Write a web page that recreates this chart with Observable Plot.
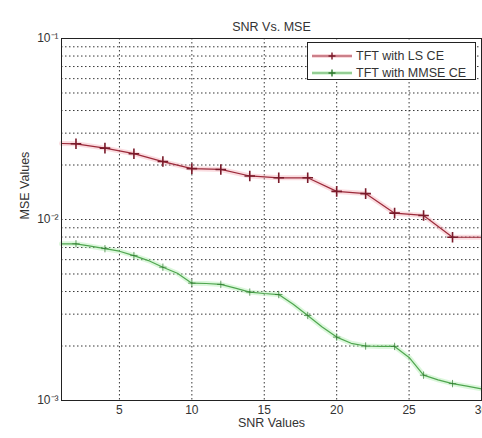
<!DOCTYPE html>
<html><head><meta charset="utf-8">
<script src="https://cdn.jsdelivr.net/npm/d3@7"></script>
<script src="https://cdn.jsdelivr.net/npm/@observablehq/plot@0.6"></script>
<style>
body{margin:0;background:#fff;}
#chart{position:relative;width:482px;height:438px;}
</style></head><body><div id="chart"></div>
<script>
// ---- data ----
const lsSnr = [1,2,4,6,8,10,12,14,16,18,20,22,24,26,28,30];
const lsMse = [0.0263,0.0262,0.0248,0.0231,0.0209,0.0191,0.0189,0.0174,0.0170,0.0170,0.0143,0.0139,0.01084,0.01053,0.00798,0.00798];
const mmseSnr = [1,2,3,4,5,6,7,8,9,10,11,12,13,14,15,16,17,18,19,20,21,22,23,24,25,26,27,28,29,30];
const mmseMse = [0.00734,0.00734,0.00712,0.00690,0.00668,0.00632,0.00593,0.00545,0.00505,0.00445,0.00443,0.00438,0.00418,0.00397,0.00390,0.00385,0.00340,0.00295,0.00255,0.00224,0.00207,0.00200,0.00199,0.00199,0.00173,0.00138,0.00130,0.00124,0.00120,0.00116];
const seriesNames = ["TFT with LS CE","TFT with MMSE CE"];
const xTicks = [5,10,15,20,25,30];
const yTicks = [0.1,0.01,0.001];
const yTickLabels = ["10\u207B\u00B9","10\u207B\u00B2","10\u207B\u00B3"];
const yGrid = [0.002,0.003,0.004,0.005,0.006,0.007,0.008,0.009,0.01,0.02,0.03,0.04,0.05,0.06,0.07,0.08,0.09];
const titleText = "SNR Vs. MSE";
const xLabel = "SNR Values";
const yLabel = "MSE Values";

// ---- styles ----
const redLine = "#9c2a3a", redHalo = "#f29aa5", redMark = "#7a1a2a";
const greenLine = "#4fa64f", greenHalo = "#a8eca8", greenMark = "#2f7a2f";
const gridStyle = {stroke:"#222", strokeOpacity:0.9, strokeDasharray:"1.5,2.5"};

const ls = lsSnr.map((x,i)=>({snr:x, mse:lsMse[i]}));
const mm = mmseSnr.map((x,i)=>({snr:x, mse:mmseMse[i]}));
const isMarker = d => d.snr >= 2 && d.snr <= 28 && d.snr % 2 === 0;

const plot = Plot.plot({
  width:482, height:438,
  marginLeft:61, marginRight:1, marginTop:38, marginBottom:38,
  style:{fontFamily:"'Liberation Sans', Arial, sans-serif", fontSize:"12px", color:"#333", background:"#fff", overflow:"visible"},
  x:{domain:[1,30]},
  y:{type:"log", domain:[0.001,0.1]},
  marks:[
    Plot.gridX(xTicks.slice(0,5), gridStyle),
    Plot.gridY(yGrid, gridStyle),
    Plot.axisX(xTicks, {tickSize:0, tickPadding:5, label:null, fontSize:12}),
    Plot.axisY(yTicks, {tickSize:0, tickPadding:3, label:null, fontSize:12, tickFormat: d => yTickLabels[yTicks.indexOf(d)]}),
    Plot.line(ls, {x:"snr", y:"mse", stroke:redHalo, strokeWidth:5, strokeOpacity:0.35}),
    Plot.line(ls, {x:"snr", y:"mse", stroke:redLine, strokeWidth:1.2}),
    Plot.dot(ls.filter(isMarker), {x:"snr", y:"mse", symbol:"plus", r:3.5, stroke:redMark, strokeWidth:1.6}),
    Plot.line(mm, {x:"snr", y:"mse", stroke:greenHalo, strokeWidth:5, strokeOpacity:0.4}),
    Plot.line(mm, {x:"snr", y:"mse", stroke:greenLine, strokeWidth:1.2}),
    Plot.dot(mm.filter(isMarker), {x:"snr", y:"mse", symbol:"plus", r:2.5, stroke:greenMark, strokeWidth:1, strokeOpacity:0.7}),
    Plot.frame({stroke:"#222"}),
    Plot.text([titleText], {text:d=>d, frameAnchor:"top", dy:-16, fontSize:12.5, fill:"#333"}),
    Plot.text([xLabel], {text:d=>d, frameAnchor:"bottom", dy:26, fontSize:12.5, fill:"#333"}),
    Plot.text([yLabel], {text:d=>d, frameAnchor:"left", dx:-37, rotate:-90, fontSize:12.5, fill:"#333"})
  ]
});
document.getElementById("chart").appendChild(plot);

// ---- legend ----
const svg = d3.select(plot);
const lg = svg.append("g").attr("font-family","'Liberation Sans', Arial, sans-serif").attr("font-size",12.5).attr("text-anchor","start");
lg.append("rect").attr("x",307.5).attr("y",42.5).attr("width",168).attr("height",37).attr("fill","#fff").attr("stroke","#222");
const rows = [
  {name:seriesNames[0], line:redLine, halo:redHalo, mark:redMark, y:56},
  {name:seriesNames[1], line:greenLine, halo:greenHalo, mark:greenMark, y:73}
];
rows.forEach(r=>{
  lg.append("line").attr("x1",312).attr("x2",352).attr("y1",r.y).attr("y2",r.y).attr("stroke",r.halo).attr("stroke-width",4).attr("stroke-opacity",0.4);
  lg.append("line").attr("x1",312).attr("x2",352).attr("y1",r.y).attr("y2",r.y).attr("stroke",r.line).attr("stroke-width",1.2);
  lg.append("path").attr("d",`M${332-3.5},${r.y}h7M332,${r.y-3.5}v7`).attr("stroke",r.mark).attr("stroke-width",1.4);
  lg.append("text").attr("x",356).attr("y",r.y).attr("dy","0.35em").attr("text-anchor","start").attr("fill","#333").text(r.name);
});
</script></body></html>
